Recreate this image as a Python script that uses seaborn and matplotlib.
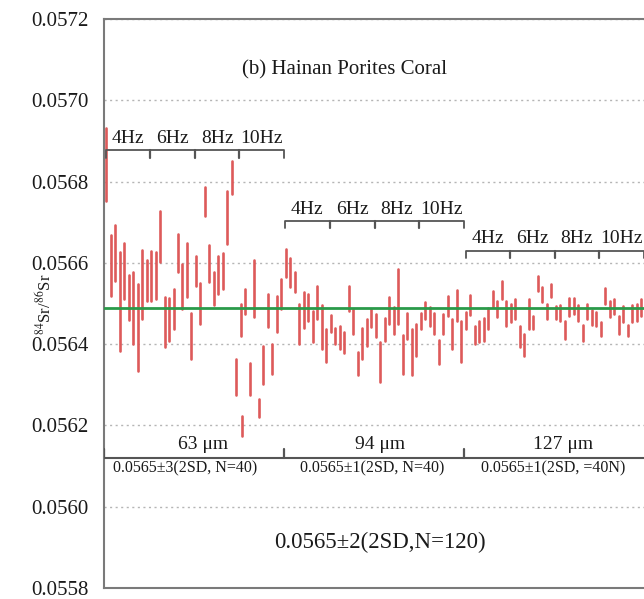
import matplotlib
matplotlib.use("Agg")
import matplotlib.pyplot as plt
import pandas as pd
import seaborn as sns
from matplotlib.ticker import MultipleLocator, FormatStrFormatter

# bar ends (84Sr/86Sr), three spot sizes, 40 shots each
seg1_pos = list(range(1, 32)) + [31.15] + list(range(32, 41))
seg1_hi = [0.056933, 0.056668, 0.056693, 0.056627, 0.056649, 0.056570, 0.056578, 0.056548, 0.056632, 0.056607,
           0.056629, 0.056627, 0.056727, 0.056516, 0.056514, 0.056536, 0.056671, 0.056597, 0.056649, 0.056477,
           0.056617, 0.056551, 0.056786, 0.056644, 0.056578, 0.056617, 0.056624, 0.056776, 0.056850, 0.056364,
           0.056499, 0.056222, 0.056536, 0.056354, 0.056607, 0.056266, 0.056396, 0.056524, 0.056401, 0.056519,
           0.056561]
seg1_lo = [0.056752, 0.056519, 0.056556, 0.056384, 0.056511, 0.056460, 0.056401, 0.056335, 0.056462, 0.056507,
           0.056507, 0.056511, 0.056602, 0.056394, 0.056408, 0.056438, 0.056578, 0.056487, 0.056516, 0.056364,
           0.056543, 0.056450, 0.056715, 0.056553, 0.056497, 0.056524, 0.056536, 0.056646, 0.056769, 0.056274,
           0.056421, 0.056175, 0.056475, 0.056274, 0.056467, 0.056220, 0.056303, 0.056443, 0.056327, 0.056430,
           0.056487]

seg2_pos = list(range(41, 81))
seg2_hi = [0.056634, 0.056612, 0.056578, 0.056499, 0.056529, 0.056524, 0.056482, 0.056543, 0.056497, 0.056438,
           0.056472, 0.056440, 0.056445, 0.056430, 0.056543, 0.056487, 0.056381, 0.056440, 0.056462, 0.056487,
           0.056475, 0.056404, 0.056465, 0.056516, 0.056492, 0.056585, 0.056423, 0.056477, 0.056438, 0.056450,
           0.056477, 0.056504, 0.056492, 0.056477, 0.056411, 0.056475, 0.056519, 0.056462, 0.056534, 0.056457]
seg2_lo = [0.056565, 0.056541, 0.056529, 0.056401, 0.056440, 0.056457, 0.056404, 0.056462, 0.056389, 0.056357,
           0.056430, 0.056401, 0.056389, 0.056377, 0.056482, 0.056426, 0.056325, 0.056364, 0.056396, 0.056443,
           0.056418, 0.056308, 0.056408, 0.056450, 0.056426, 0.056450, 0.056327, 0.056413, 0.056323, 0.056372,
           0.056438, 0.056462, 0.056445, 0.056426, 0.056352, 0.056426, 0.056470, 0.056389, 0.056457, 0.056357]

seg3_pos = list(range(81, 121))
seg3_hi = [0.056480, 0.056521, 0.056445, 0.056457, 0.056465, 0.056489, 0.056531, 0.056507, 0.056556, 0.056507,
           0.056499, 0.056511, 0.056445, 0.056426, 0.056511, 0.056470, 0.056568, 0.056541, 0.056499, 0.056548,
           0.056494, 0.056497, 0.056457, 0.056514, 0.056514, 0.056497, 0.056448, 0.056499, 0.056484, 0.056480,
           0.056455, 0.056538, 0.056507, 0.056511, 0.056470, 0.056494, 0.056448, 0.056497, 0.056499, 0.056511]
seg3_lo = [0.056438, 0.056472, 0.056401, 0.056406, 0.056408, 0.056438, 0.056492, 0.056467, 0.056511, 0.056445,
           0.056455, 0.056462, 0.056394, 0.056372, 0.056438, 0.056438, 0.056531, 0.056504, 0.056462, 0.056516,
           0.056462, 0.056457, 0.056413, 0.056470, 0.056475, 0.056457, 0.056408, 0.056462, 0.056448, 0.056445,
           0.056421, 0.056499, 0.056467, 0.056475, 0.056426, 0.056455, 0.056421, 0.056455, 0.056457, 0.056470]

mean_ratio = 0.05649
freq_labels = ["4Hz", "6Hz", "8Hz", "10Hz"]
spot_labels = ["63 μm", "94 μm", "127 μm"]
seg_stats = ["0.0565±3(2SD, N=40)", "0.0565±1(2SD, N=40)", "0.0565±1(2SD, =40N)"]
total_stat = "0.0565±2(2SD,N=120)"

pos = seg1_pos + seg2_pos + seg3_pos
lo = seg1_lo + seg2_lo + seg3_lo
hi = seg1_hi + seg2_hi + seg3_hi
df = pd.DataFrame({"pos": pos + pos, "ratio": lo + hi})

sns.set_style("white")
plt.rcParams["font.family"] = ["Liberation Serif", "DejaVu Serif"]
plt.rcParams["mathtext.fontset"] = "stix"

RED = "#dd5a5a"
GREEN = "#2a9a4a"
FRAME = "#7a7a7a"
INK = "#1a1a1a"

fig = plt.figure(figsize=(6.44, 5.99), dpi=100)
ax = fig.add_axes([0.1615, 0.0184, 0.8385, 0.9499])

sns.pointplot(data=df, x="pos", y="ratio", native_scale=True, estimator="mean",
              errorbar=lambda v: (v.min(), v.max()), color=RED,
              linestyle="none", marker="", err_kws={"linewidth": 1.9}, ax=ax)
ax.axhline(mean_ratio, color=GREEN, lw=2, zorder=3)

ax.set_xlim(0.55, 120.6)
ax.set_ylim(0.0558, 0.0572)
ax.yaxis.set_major_locator(MultipleLocator(0.0002))
ax.yaxis.set_minor_locator(MultipleLocator(0.00005))
ax.yaxis.set_major_formatter(FormatStrFormatter("%.4f"))
ax.set_xticks([])
ax.set_xlabel("")
ax.set_ylabel("")
ax.tick_params(axis="y", which="major", direction="in", length=6, width=1, color=FRAME,
               labelsize=15, labelcolor=INK, pad=11)
ax.tick_params(axis="y", which="minor", direction="in", length=4, width=1, color=FRAME)
ax.grid(axis="y", which="major", linestyle=(0, (1.5, 2.5)), color="#b5b5b5", lw=1)
for side in ["left", "top", "bottom"]:
    ax.spines[side].set_color(FRAME)
    ax.spines[side].set_linewidth(1.5)
ax.spines["right"].set_visible(False)

ax.text(-0.109, 0.498, r"$^{84}$Sr/$^{86}$Sr", transform=ax.transAxes, rotation=90,
        ha="center", va="center", fontsize=12, color=INK)

ax.text(54.1, 0.057076, "(b) Hainan Porites Coral", ha="center", va="center", fontsize=15, color=INK)

# Hz brackets above each spot-size group
brackets = [(1.0, 40.5, 0.056877), (40.8, 80.6, 0.056703), (81.0, 120.5, 0.056630)]
tick_len = 0.000018
for x0, x1, yb in brackets:
    q = (x1 - x0) / 4
    ax.plot([x0, x0, x1, x1], [yb - tick_len, yb, yb, yb - tick_len], color="#555555", lw=1.3, zorder=4)
    for k in range(1, 4):
        ax.plot([x0 + k * q, x0 + k * q], [yb, yb - tick_len], color="#555555", lw=1.6, zorder=4)
    for k, lab in enumerate(freq_labels):
        ax.text(x0 + (k + 0.5) * q, yb + 0.000008, lab, ha="center", va="bottom", fontsize=14, color=INK)

# spot-size separator line at the bottom
y_sep = 0.056119
ax.plot([0.55, 120.6], [y_sep, y_sep], color="#555555", lw=1.5, zorder=4)
for xs in [0.6, 40.6, 80.6]:
    ax.plot([xs, xs], [y_sep, y_sep + 0.000024], color="#555555", lw=1.6, zorder=4)
for xc, lab in zip([22.5, 61.9, 102.6], spot_labels):
    ax.text(xc, 0.056153, lab, ha="center", va="center", fontsize=14, color=INK)
for xc, lab in zip([18.6, 60.1, 100.3], seg_stats):
    ax.text(xc, 0.056094, lab, ha="center", va="center", fontsize=11.5, color=INK)
ax.text(61.9, 0.055911, total_stat, ha="center", va="center", fontsize=16.5, color=INK)

fig.savefig("out.png", dpi=100)
